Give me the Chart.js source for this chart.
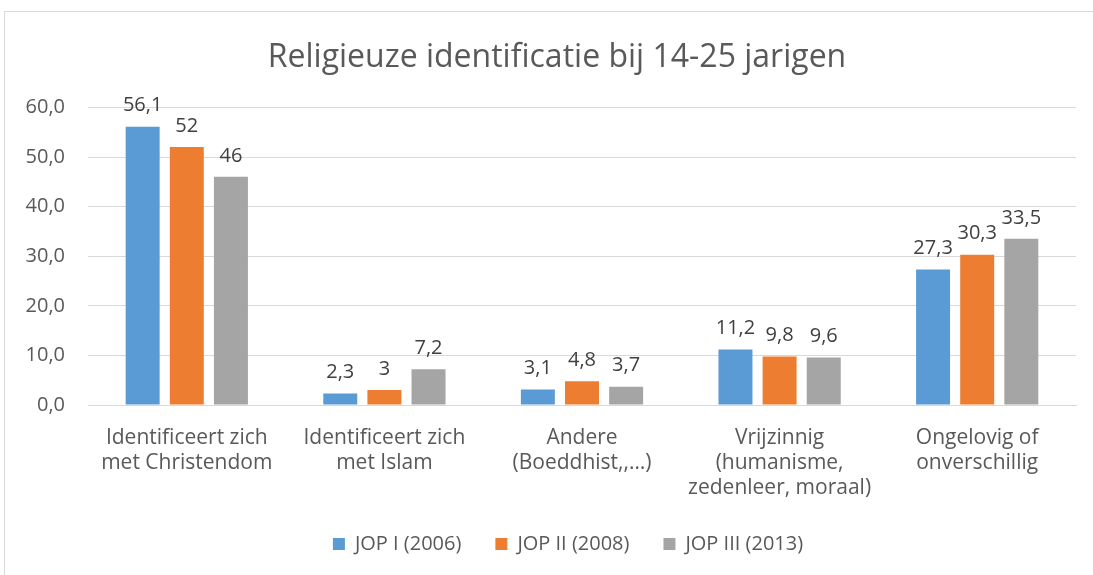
<!DOCTYPE html>
<html>
<head>
<meta charset="utf-8">
<script src="https://cdn.jsdelivr.net/npm/chart.js@4/dist/chart.umd.min.js"></script>
<style>
html,body{margin:0;padding:0;background:#fff;}
#wrap{position:absolute;left:0;top:0;width:1093px;height:575px;}
</style>
</head>
<body>
<div id="wrap"><canvas id="c" width="1093" height="575"></canvas></div>
<script>
const titleText = 'Religieuze identificatie bij 14-25 jarigen';
const categories = [
  ['Identificeert zich', 'met Christendom'],
  ['Identificeert zich', 'met Islam'],
  ['Andere', '(Boeddhist,,…)'],
  ['Vrijzinnig', '(humanisme,', 'zedenleer, moraal)'],
  ['Ongelovig of', 'onverschillig']
];
const seriesNames = ['JOP I (2006)', 'JOP II (2008)', 'JOP III (2013)'];
const jop2006 = [56.1, 2.3, 3.1, 11.2, 27.3];
const jop2008 = [52, 3, 4.8, 9.8, 30.3];
const jop2013 = [46, 7.2, 3.7, 9.6, 33.5];
const colors = ['#5B9BD5', '#ED7D31', '#A5A5A5'];
const yTicks = [0, 10, 20, 30, 40, 50, 60];

const FONT = '"Open Sans", Lato, sans-serif';
const TXT = '#595959';

const borderPlugin = {
  id: 'frame',
  afterLayout(chart) {
    // the original chart frame is wider than the picture; centre title and legend on it
    const t = chart.titleBlock, l = chart.legend;
    if (t) { t.left += 19; t.right += 19; }
    if (l) { l.left += 30; l.right += 30; }
  },
  beforeDraw(chart) {
    const ctx = chart.ctx;
    ctx.save();
    ctx.strokeStyle = '#d9d9d9';
    ctx.lineWidth = 1;
    ctx.beginPath();
    ctx.moveTo(4.5, 575);
    ctx.lineTo(4.5, 11.5);
    ctx.lineTo(1093, 11.5);
    ctx.stroke();
    ctx.restore();
  }
};

const labelPlugin = {
  id: 'vals',
  afterDatasetsDraw(chart) {
    const ctx = chart.ctx;
    ctx.save();
    ctx.font = '20px ' + FONT;
    ctx.fillStyle = '#404040';
    ctx.textAlign = 'center';
    ctx.textBaseline = 'middle';
    chart.data.datasets.forEach((ds, i) => {
      const meta = chart.getDatasetMeta(i);
      meta.data.forEach((bar, j) => {
        const v = ds.data[j];
        ctx.fillText(String(v).replace('.', ','), bar.x, bar.y - 21);
      });
    });
    ctx.restore();
  }
};

new Chart(document.getElementById('c'), {
  type: 'bar',
  data: {
    labels: categories,
    datasets: [
      { label: seriesNames[0], data: jop2006, backgroundColor: colors[0] },
      { label: seriesNames[1], data: jop2008, backgroundColor: colors[1] },
      { label: seriesNames[2], data: jop2013, backgroundColor: colors[2] }
    ]
  },
  options: {
    responsive: false,
    animation: false,
    devicePixelRatio: 1,
    layout: { padding: { left: 0, right: 17, top: 20, bottom: 11 } },
    datasets: { bar: { categoryPercentage: 0.67, barPercentage: 0.77 } },
    plugins: {
      title: {
        display: true,
        text: titleText,
        color: TXT,
        font: { family: FONT, size: 32, weight: 'normal' },
        padding: { top: 19, bottom: 30 }
      },
      legend: {
        position: 'bottom',
        labels: {
          color: TXT,
          font: { family: FONT, size: 20 },
          boxWidth: 12,
          boxHeight: 12,
          padding: 34
        }
      },
      tooltip: { enabled: false }
    },
    scales: {
      x: {
        grid: { display: false, drawTicks: false },
        border: { color: '#d9d9d9', width: 1 },
        afterFit(scale) { scale.height = 95; },
        ticks: {
          color: TXT,
          font: { family: FONT, size: 21, lineHeight: 1.2 },
          maxRotation: 0,
          padding: 20
        }
      },
      y: {
        min: 0,
        max: 60,
        afterBuildTicks(scale) { scale.ticks = yTicks.map(v => ({ value: v })); },
        afterFit(scale) { scale.width = 88; },
        grid: { color: '#d9d9d9', drawTicks: false },
        border: { display: false },
        ticks: {
          color: TXT,
          font: { family: FONT, size: 20 },
          padding: 23,
          callback: v => v.toFixed(1).replace('.', ',')
        }
      }
    }
  },
  plugins: [borderPlugin, labelPlugin]
});
</script>
</body>
</html>
